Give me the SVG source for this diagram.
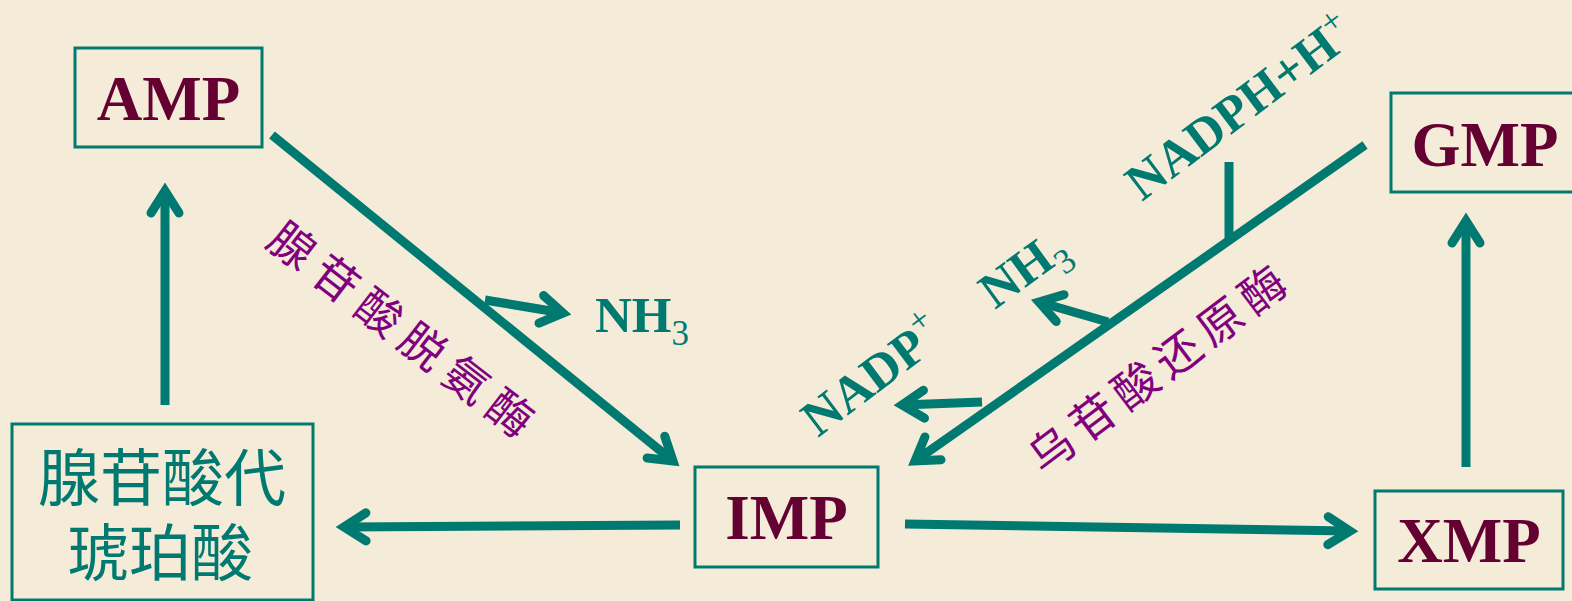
<svg xmlns="http://www.w3.org/2000/svg" width="1572" height="601" viewBox="0 0 1572 601">
  <defs>
    <style>
      .box { fill: none; stroke: #007a70; stroke-width: 3; }
      .name { font-family: "Liberation Serif", "Times New Roman", serif; font-weight: bold; font-size: 63px; fill: #640032; text-anchor: middle; }
      .chem { font-family: "Liberation Serif", "Times New Roman", serif; font-weight: bold; font-size: 51px; fill: #007a70; }
      .idx { font-weight: normal; font-size: 35px; }
      .enz { font-family: "Noto Sans CJK SC", sans-serif; font-size: 45px; fill: #800080; text-anchor: middle; dominant-baseline: central; }
      .cjk { font-family: "Noto Sans CJK SC", sans-serif; font-size: 62px; fill: #007a70; text-anchor: middle; }
      .link { fill: none; stroke: #007a70; stroke-width: 9; }
      .arrow { marker-end: url(#head); }
    </style>
    <marker id="head" markerUnits="userSpaceOnUse" viewBox="-30 -30 60 60" markerWidth="60" markerHeight="60" refX="0" refY="0" orient="auto" overflow="visible">
      <path d="M-22,-14 L0,0 L-22,14" fill="none" stroke="#007a70" stroke-width="9" stroke-linecap="round" stroke-linejoin="miter" stroke-miterlimit="10"/>
    </marker>
  </defs>

  <rect width="1572" height="601" fill="#f4ebd8"/>

  <!-- connectors -->
  <g id="connectors">
    <line class="link arrow" x1="272" y1="135" x2="673" y2="461"/>
    <line class="link arrow" x1="485" y1="300" x2="563" y2="313"/>
    <line class="link arrow" x1="680" y1="525" x2="344" y2="527"/>
    <line class="link arrow" x1="165" y1="405" x2="165" y2="191"/>
    <line class="link arrow" x1="905" y1="524" x2="1350" y2="531"/>
    <line class="link arrow" x1="1466" y1="467" x2="1466" y2="221"/>
    <line class="link arrow" x1="1365" y1="145" x2="915" y2="461"/>
    <line class="link" x1="1229" y1="162" x2="1229" y2="241"/>
    <line class="link arrow" x1="1108" y1="322" x2="1039" y2="302"/>
    <line class="link arrow" x1="982" y1="402" x2="902" y2="405"/>
  </g>

  <!-- nodes -->
  <g id="amp">
    <rect class="box" x="75" y="48" width="187" height="99"/>
    <text class="name" x="168.5" y="120">AMP</text>
  </g>
  <g id="imp">
    <rect class="box" x="695" y="467" width="183" height="100"/>
    <text class="name" x="786.5" y="539">IMP</text>
  </g>
  <g id="xmp">
    <rect class="box" x="1375" y="491" width="188" height="98"/>
    <text class="name" x="1469" y="562">XMP</text>
  </g>
  <g id="gmp">
    <rect class="box" x="1391" y="93" width="190" height="99"/>
    <text class="name" x="1485" y="166">GMP</text>
  </g>
  <g id="adenylosuccinate">
    <rect class="box" x="12" y="424" width="301" height="176"/>
    <text class="cjk" x="162" y="501">腺苷酸代<tspan x="160" y="576">琥珀酸</tspan></text>
  </g>

  <!-- labels -->
  <g id="labels">
    <text class="chem" x="595" y="332">NH<tspan class="idx" dy="13">3</tspan></text>
    <text class="chem" font-size="54" transform="translate(1142,202) rotate(-37)">NADPH+H<tspan class="idx" dy="-19">+</tspan></text>
    <text class="chem" font-size="53" transform="translate(995,310) rotate(-36)">NH<tspan class="idx" dy="13">3</tspan></text>
    <text class="chem" font-size="49" transform="translate(818,438) rotate(-37)">NADP<tspan class="idx" dy="-22">+</tspan></text>
    <text class="enz" transform="translate(403,327) rotate(37.6)" textLength="320" lengthAdjust="spacing">腺苷酸脱氨酶</text>
    <text class="enz" transform="translate(1155,367) rotate(-37)" textLength="310" lengthAdjust="spacing">乌苷酸还原酶</text>
  </g>
</svg>
